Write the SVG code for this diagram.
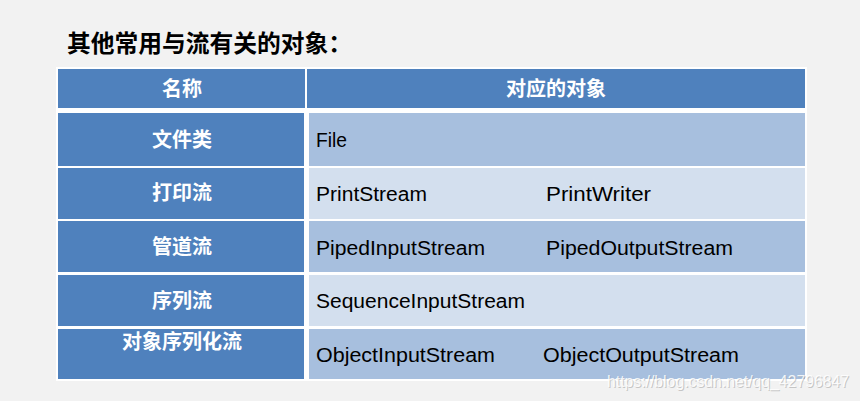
<svg xmlns="http://www.w3.org/2000/svg" width="860" height="401" viewBox="0 0 860 401">
<style>
.hd{fill:#4F81BD}
.dk{fill:#A7BFDE}
.lt{fill:#D3DFEE}
.cn{font-family:"Noto Sans CJK SC","Noto Sans",sans-serif;font-weight:bold;fill:#FFFFFF;font-size:20px;text-anchor:middle}
.en{font-family:"Liberation Sans","Noto Sans",sans-serif;fill:#000000;font-size:20px}
.title{font-family:"Noto Sans CJK SC",sans-serif;font-weight:bold;font-size:24px;fill:#000000}
.wm{font-family:"Liberation Sans",sans-serif;font-size:16px}
</style>
<rect width="860" height="401" fill="#F2F2F2"/>
<text class="title" x="67" y="52" textLength="285" lengthAdjust="spacingAndGlyphs">其他常用与流有关的对象：</text>
<rect x="56" y="67" width="751" height="314" fill="#FFFFFF"/>
<g id="header">
<rect class="hd" x="58" y="69" width="247" height="39"/>
<rect class="hd" x="307" y="69" width="498" height="39"/>
<text class="cn" x="182" y="96">名称</text>
<text class="cn" x="556" y="96">对应的对象</text>
</g>
<g id="row-file">
<rect class="hd" x="58" y="113" width="246" height="53"/>
<rect class="dk" x="309" y="113" width="496" height="53"/>
<text class="cn" x="182" y="147">文件类</text>
<text class="en" x="316" y="147" textLength="31" lengthAdjust="spacingAndGlyphs">File</text>
</g>
<g id="row-print">
<rect class="hd" x="58" y="168" width="246" height="51"/>
<rect class="lt" x="309" y="168" width="496" height="51"/>
<text class="cn" x="182" y="200">打印流</text>
<text class="en" x="316" y="201" textLength="111" lengthAdjust="spacingAndGlyphs">PrintStream</text>
<text class="en" x="546" y="201" textLength="105" lengthAdjust="spacingAndGlyphs">PrintWriter</text>
</g>
<g id="row-piped">
<rect class="hd" x="58" y="221" width="246" height="51"/>
<rect class="dk" x="309" y="221" width="496" height="51"/>
<text class="cn" x="182" y="254">管道流</text>
<text class="en" x="316" y="255" textLength="169" lengthAdjust="spacingAndGlyphs">PipedInputStream</text>
<text class="en" x="546" y="255" textLength="187" lengthAdjust="spacingAndGlyphs">PipedOutputStream</text>
</g>
<g id="row-sequence">
<rect class="hd" x="58" y="275" width="246" height="51"/>
<rect class="lt" x="309" y="275" width="496" height="51"/>
<text class="cn" x="182" y="308">序列流</text>
<text class="en" x="316" y="308" textLength="209" lengthAdjust="spacingAndGlyphs">SequenceInputStream</text>
</g>
<g id="row-object">
<rect class="hd" x="58" y="329" width="246" height="50"/>
<rect class="dk" x="309" y="329" width="496" height="50"/>
<text class="cn" x="182" y="349">对象序列化流</text>
<text class="en" x="316" y="362" textLength="179" lengthAdjust="spacingAndGlyphs">ObjectInputStream</text>
<text class="en" x="543" y="362" textLength="196" lengthAdjust="spacingAndGlyphs">ObjectOutputStream</text>
</g>
<g id="connectors"></g>
<text class="wm" x="608" y="388" fill="#999999" fill-opacity="0.5" textLength="242" lengthAdjust="spacingAndGlyphs">https://blog.csdn.net/qq_42796847</text>
<text class="wm" x="607" y="387" fill="#FFFFFF" fill-opacity="0.85" textLength="242" lengthAdjust="spacingAndGlyphs">https://blog.csdn.net/qq_42796847</text>
</svg>
